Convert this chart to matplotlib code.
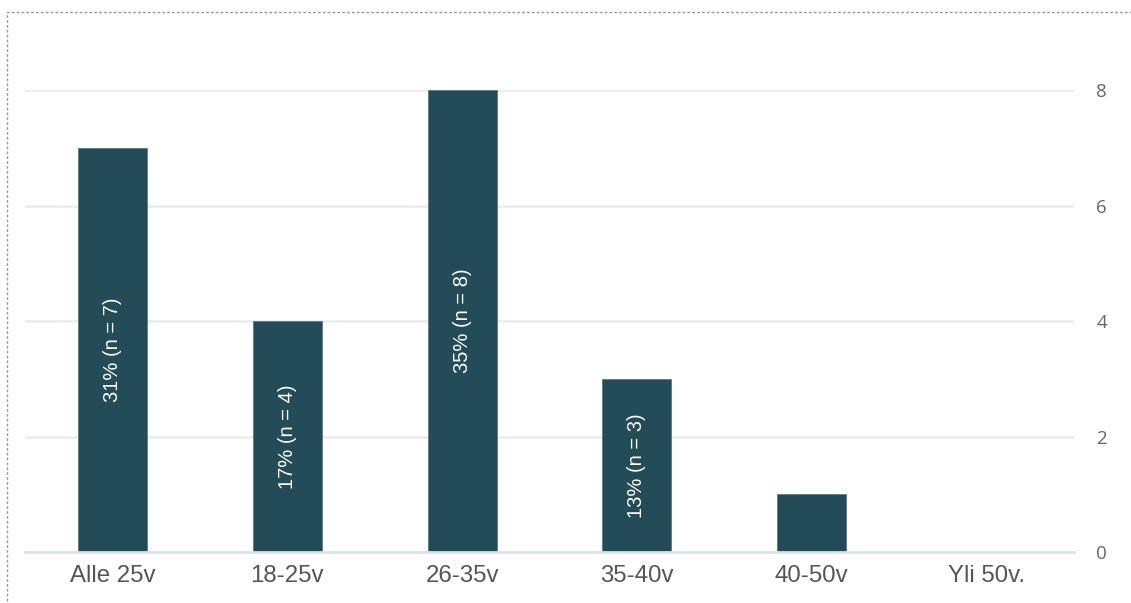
import matplotlib.pyplot as plt
from matplotlib.patches import Rectangle

# ===== Data =====
categories = ["Alle 25v", "18-25v", "26-35v", "35-40v", "40-50v", "Yli 50v."]
counts = [7, 4, 8, 3, 1, 0]
bar_labels = ["31% (n = 7)", "17% (n = 4)", "35% (n = 8)", "13% (n = 3)", "", ""]
y_ticks = [0, 2, 4, 6, 8]

BAR_COLOR = "#244b58"

plt.rcParams['font.family'] = ['Liberation Sans', 'DejaVu Sans']

# ===== Figure =====
fig = plt.figure(figsize=(11.31, 6.03), dpi=100)
ax = fig.add_axes([25 / 1131, 1 - 552 / 603, 1049 / 1131, (552 - 90) / 603])

x = range(len(categories))
bars = ax.bar(x, counts, width=0.395, color=BAR_COLOR, edgecolor="#5a7a84",
              linewidth=0.6, zorder=3)

# labels inside bars
for rect, lab in zip(bars, bar_labels):
    if lab:
        ax.text(rect.get_x() + rect.get_width() / 2, rect.get_height() / 2, lab,
                rotation=90, ha="center", va="center", color="white",
                fontsize=14.5, family=["Liberation Sans", "DejaVu Sans"], zorder=4)

ax.set_xlim(-0.5, len(categories) - 0.5)
ax.set_ylim(0, 8)
ax.set_xticks(list(x))
ax.set_xticklabels(categories, fontsize=17.3, color="#555555")
ax.set_yticks(y_ticks)
ax.set_yticklabels([str(t) for t in y_ticks], fontsize=13.5, color="#666666",
                   family=["Open Sans", "DejaVu Sans"])

ax.yaxis.tick_right()
ax.tick_params(axis="y", length=0, pad=16)
ax.tick_params(axis="x", length=0, pad=9)

ax.grid(axis="y", color="#eeeeee", linewidth=2, zorder=0)
ax.set_axisbelow(True)
for side in ["top", "right", "left"]:
    ax.spines[side].set_visible(False)
ax.spines["bottom"].set_color("#dde3ec")
ax.spines["bottom"].set_linewidth(2)
ax.spines["bottom"].set_zorder(5)

# dashed frame around the chart (right/bottom edges run off the image)
frame = Rectangle((7 / 1131, -0.05), 1.1, 1 - 12 / 603 + 0.05,
                  transform=fig.transFigure, fill=False, edgecolor="#999999",
                  linestyle=(0, (2, 1.5)), linewidth=1)
fig.add_artist(frame)

plt.savefig("out.png", dpi=100)
